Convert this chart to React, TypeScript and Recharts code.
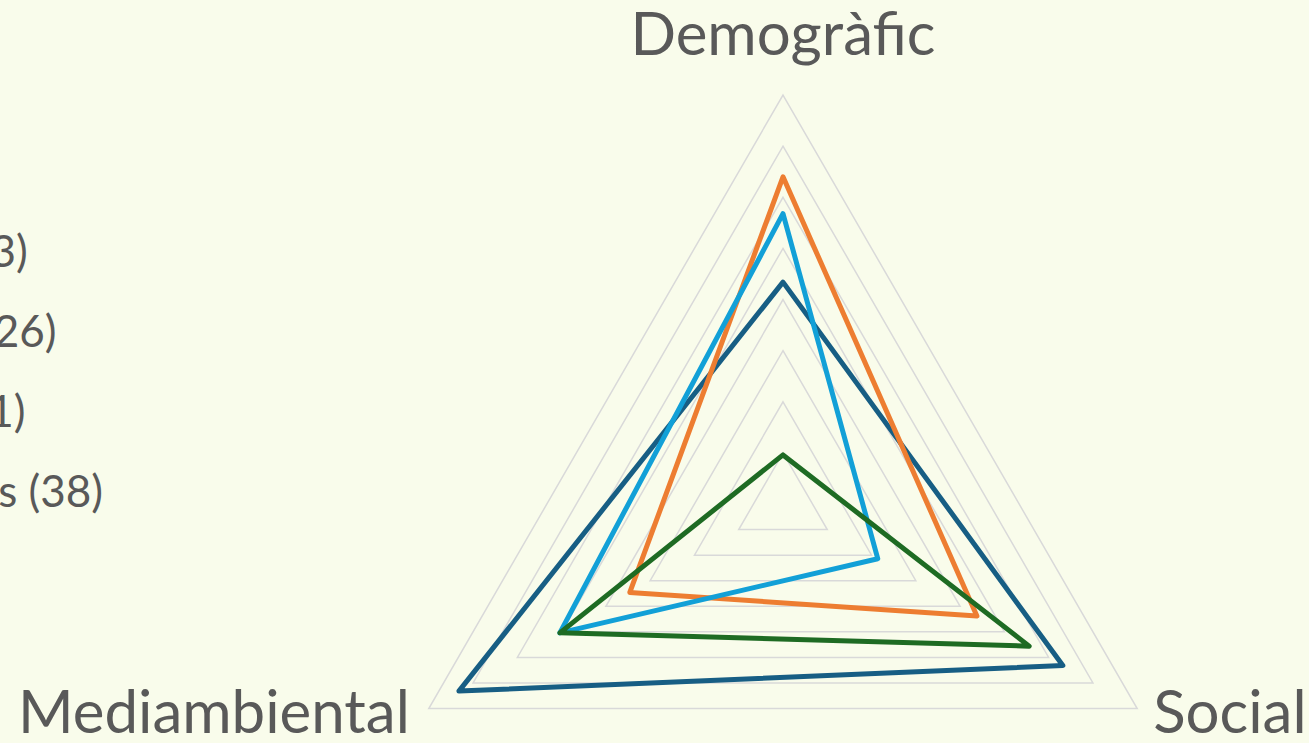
import React from "react";
import {
  RadarChart,
  Radar,
  PolarGrid,
  PolarAngleAxis,
  PolarRadiusAxis,
  Legend,
} from "recharts";

// eixos del radar
const categories = ["Demogràfic", "Social", "Mediambiental"];

// sèries (llegenda) i valors per eix
const seriesNames = [
  "Municipis petits (13)",
  "Municipis mitjans (26)",
  "Municipis rurals (21)",
  "Municipis costaners (38)",
];
const seriesColors = ["#175E84", "#ED7D31", "#12A0D7", "#1E6B23"];

const darkBlueValues = [21.7, 31.6, 36.6];
const orangeValues = [32.0, 21.9, 17.3];
const lightBlueValues = [28.4, 10.7, 25.2];
const greenValues = [4.8, 27.8, 25.2];

const seriesValues = [darkBlueValues, orangeValues, lightBlueValues, greenValues];

const radiusDomain: [number, number] = [0, 40];
const radiusTickCount = 9;

const data = categories.map((subject, i) => {
  const row: Record<string, string | number> = { subject };
  seriesNames.forEach((name, s) => {
    row[name] = seriesValues[s][i];
  });
  return row;
});

const FONT = "Lato, 'Open Sans', sans-serif";
const TEXT = "#595959";

const AxisTick = (props: any) => {
  const { x, y, textAnchor, payload } = props;
  let dx = 0;
  let dy = 0;
  if (textAnchor === "middle") {
    dy = -32;
  } else if (textAnchor === "end") {
    dx = -12;
    dy = 20;
  } else {
    dx = 9;
    dy = 20;
  }
  return (
    <text
      x={x + dx}
      y={y + dy}
      textAnchor={textAnchor}
      fill={TEXT}
      fontSize={60}
      fontFamily={FONT}
    >
      {payload.value}
    </text>
  );
};

const LegendContent = () => (
  <div style={{ fontFamily: FONT, fontSize: 44, color: TEXT }}>
    {seriesNames.map((name, i) => (
      <div
        key={name}
        style={{ display: "flex", alignItems: "center", height: 80, whiteSpace: "nowrap" }}
      >
        <span
          style={{
            display: "inline-block",
            width: 40,
            height: 5,
            background: seriesColors[i],
            marginRight: 10,
          }}
        />
        <span>{name}</span>
      </div>
    ))}
  </div>
);

export default function App() {
  return (
    <div
      style={{
        position: "fixed",
        left: 0,
        top: 0,
        width: 1309,
        height: 743,
        background: "#F9FCEB",
        overflow: "hidden",
      }}
    >
      <RadarChart
        width={1309}
        height={743}
        data={data}
        cx={783}
        cy={504}
        outerRadius={409}
        margin={{ top: 0, right: 0, bottom: 0, left: 0 }}
      >
        <PolarGrid gridType="polygon" radialLines={false} stroke="#D9D9D9" strokeWidth={1.5} />
        <PolarAngleAxis dataKey="subject" tick={<AxisTick />} tickLine={false} axisLine={false} />
        <PolarRadiusAxis
          domain={radiusDomain}
          tickCount={radiusTickCount}
          tick={false}
          axisLine={false}
        />
        {seriesNames.map((name, i) => (
          <Radar
            key={name}
            name={name}
            dataKey={name}
            stroke={seriesColors[i]}
            strokeWidth={5}
            strokeLinejoin="round"
            fill="none"
            fillOpacity={0}
            dot={false}
            isAnimationActive={false}
          />
        ))}
        <Legend
          layout="vertical"
          align="left"
          verticalAlign="top"
          content={<LegendContent />}
          wrapperStyle={{ left: -415, top: 210, width: "auto" }}
        />
      </RadarChart>
    </div>
  );
}
